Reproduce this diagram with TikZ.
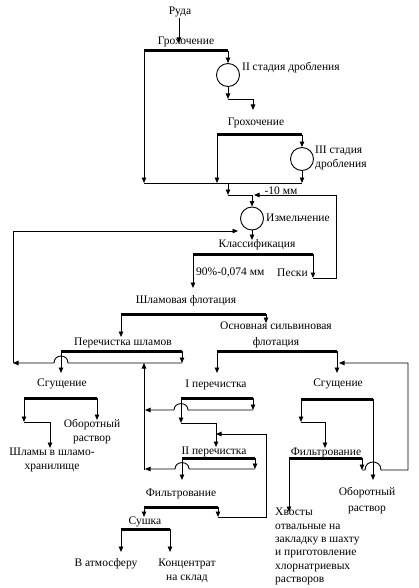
\documentclass[tikz,border=0pt]{standalone}
\usepackage{fontspec}
\setmainfont{Liberation Serif}
\usetikzlibrary{arrows.meta}
\begin{document}
\begin{tikzpicture}[x=1pt,y=-1pt,
  bar/.style={line width=3pt},
  ln/.style={line width=0.9pt},
  fl/.style={line width=0.9pt,-{Triangle[length=5.5pt,width=4.5pt]}},
  txt/.style={inner sep=0pt,font=\fontsize{11.5}{14}\selectfont},
  mill/.style={circle,draw,line width=0.9pt,minimum size=23pt,inner sep=0pt}]
\useasboundingbox[fill=white] (0,0) rectangle (418,588);
% text
\node[txt] (ruda) at (180,12) {Руда};
\node[txt] (groh1) at (186,42) {Грохочение};
\node[txt,anchor=west] (st2) at (242,68) {II стадия дробления};
\node[txt] (groh2) at (256,123) {Грохочение};
\node[txt,anchor=west,align=left] (st3) at (315,158) {III стадия\\дробления};
\node[txt] (m10) at (281,191) {-10 мм};
\node[txt,anchor=west] (izm) at (266,218) {Измельчение};
\node[txt] (klass) at (257,245) {Классификация};
\node[txt,anchor=west] (fine) at (196,273) {90\%-0,074 мм};
\node[txt,anchor=west] (peski) at (277,273) {Пески};
\node[txt] (shf) at (186,301) {Шламовая флотация};
\node[txt,align=center,font=\fontsize{11.5}{16}\selectfont] (osn) at (276,335) {Основная сильвиновая\\флотация};
\node[txt] (pshl) at (123,343) {Перечистка шламов};
\node[txt] (sg1) at (62,384) {Сгущение};
\node[txt,align=center] (obr1) at (92,431.5) {Оборотный\\раствор};
\node[txt,align=center] (shlamy) at (52,460) {Шламы в шламо-\\хранилище};
\node[txt] (p1) at (216,385) {I перечистка};
\node[txt] (sg2) at (338,384) {Сгущение};
\node[txt] (p2) at (214,452) {II перечистка};
\node[txt] (f2) at (326,453) {Фильтрование};
\node[txt] (f1) at (181,494) {Фильтрование};
\node[txt] (sush) at (145,522) {Сушка};
\node[txt] (atm) at (106,564) {В атмосферу};
\node[txt,align=center] (konc) at (187,570.5) {Концентрат\\на склад};
\node[txt,align=center,font=\fontsize{11.5}{16}\selectfont] (obr2) at (367,501) {Оборотный\\раствор};
\node[txt,anchor=north west,align=left,font=\fontsize{11.5}{13.4}\selectfont] (hv) at (275,508) {Хвосты\\отвальные на\\закладку в шахту\\и приготовление\\хлорнатриевых\\растворов};
% mills
\node[mill] (c1) at (228,75) {};
\node[mill] (c2) at (302,159) {};
\node[mill] (c3) at (252,218.5) {};
% crushing
\draw[fl] (179,18) -- (179,43);
\draw[bar] (144,51) -- (228,51);
\draw[fl] (144,51) -- (144,183);
\draw[fl] (228,51) -- (c1.north);
\draw[fl] (c1.south) -- (228,99);
\draw[fl] (228,99) -- (253,99) -- (253,110);
\draw[bar] (217,135) -- (302,135);
\draw[fl] (217,135) -- (217,183);
\draw[fl] (302,135) -- (c2.north);
\draw[fl] (c2.south) -- (302,183);
\draw[ln] (144,183) -- (302,183);
\draw[fl] (228,183) -- (228,195);
\draw[fl] (228,195) -- (252,195) -- (c3.north);
% classification
\draw[fl] (c3.south) -- (252,240);
\draw[bar] (193,254) -- (313,254);
\draw[fl] (193,254) -- (193,288);
\draw[fl] (313,254) -- (313,278);
\draw[fl] (313,278) -- (336,278) -- (336,195) -- (254,195);
% slime flotation
\draw[bar] (121,314) -- (266,314);
\draw[fl] (121,314) -- (121,337);
\draw[fl] (266,314) -- (266,323);
\draw[bar] (61,351) -- (182,351);
\draw[fl] (182,351) -- (182,363);
\draw[fl] (182,363) -- (68,363) .. controls (68,353.7) and (54,353.7) .. (54,363) -- (13,363);
\draw[fl] (13,363) -- (13,231) -- (238,231);
\draw[fl] (61,351) -- (61,373);
\draw[bar] (24,398) -- (97,398);
\draw[fl] (24,398) -- (24,422);
\draw[fl] (24,422) -- (50,422) -- (50,448);
\draw[fl] (97,398) -- (97,420);
\draw[fl] (144,470) -- (144,363);
% main flotation
\draw[bar] (217,351) -- (337,351);
\draw[fl] (217,351) -- (217,373);
\draw[fl] (337,351) -- (337,373);
\draw[bar] (181,398) -- (253,398);
\draw[fl] (253,398) -- (253,410);
\draw[fl] (253,410) -- (188,410) .. controls (188,401.5) and (174,401.5) .. (174,410) -- (145,410);
\draw[fl] (181,398) -- (181,423);
\draw[fl] (181,423) -- (216,423) -- (216,447);
\draw[fl] (218,507) -- (218,517);
\draw[fl] (218,517) -- (266,517) -- (266,434) -- (216,434);
\draw[bar] (182,458) -- (255,458);
\draw[fl] (255,458) -- (255,469);
\draw[fl] (255,469) -- (189,469) .. controls (189,460.5) and (175,460.5) .. (175,469) -- (145,469);
\draw[fl] (182,458) -- (182,480);
\draw[bar] (144,507) -- (218,507);
\draw[fl] (144,507) -- (144,517);
\draw[bar] (121,529) -- (170,529);
\draw[fl] (121,529) -- (121,552);
\draw[fl] (170,529) -- (170,552);
% right branch
\draw[bar] (301,399) -- (373,399);
\draw[fl] (301,399) -- (301,422);
\draw[fl] (301,422) -- (325,422) -- (325,448);
\draw[fl] (373,399) -- (373,480);
\draw[bar] (289,458) -- (362,458);
\draw[fl] (289,458) -- (289,512);
\draw[fl] (362,458) -- (362,470);
\draw[fl] (362,470) -- (365,470) .. controls (365,459.3) and (381,459.3) .. (381,470) -- (408,470) -- (408,363) -- (339,363);
\end{tikzpicture}
\end{document}
